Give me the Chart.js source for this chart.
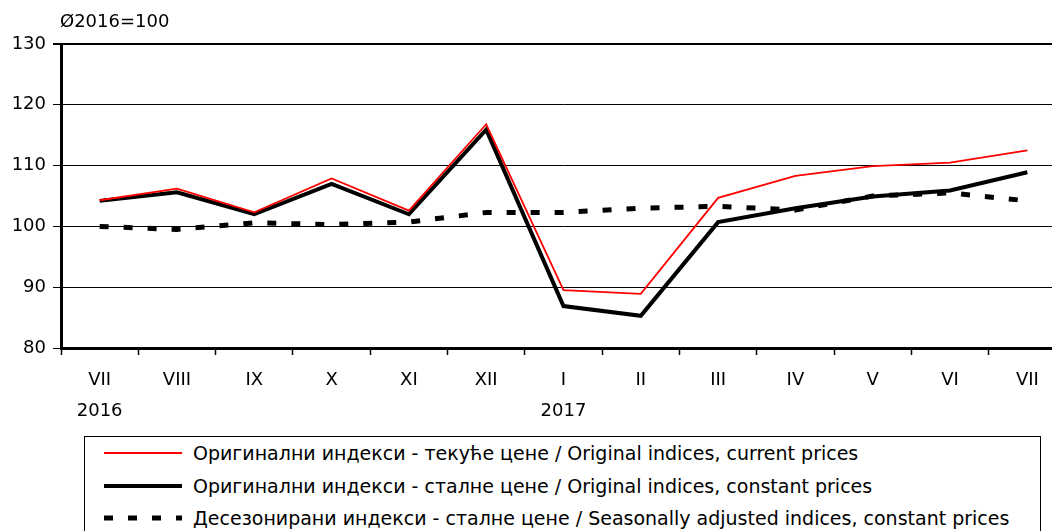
<!DOCTYPE html>
<html>
<head>
<meta charset="utf-8">
<script src="https://cdn.jsdelivr.net/npm/chart.js@4"></script>
<style>
    body { margin: 0; background: #fff; overflow: hidden; width: 1052px; height: 531px; position: relative; }
    #wrap { position: absolute; left: 0; top: 0; width: 1066px; height: 420px; }
    #legend {
        position: absolute; left: 84px; top: 436px; width: 957px; height: 120px;
        border: 1px solid #000; box-sizing: border-box;
        font-family: "DejaVu Sans", sans-serif; font-size: 19px; color: #000;
    }
    .row { position: absolute; left: 0; height: 32px; display: flex; align-items: center; white-space: nowrap; }
    .row svg { margin-left: 19px; margin-right: 11px; }
</style>
</head>
<body>
<div id="wrap"><canvas id="chart"></canvas></div>
<div id="legend"></div>
<script>
// Months, July 2016 - July 2017
const months = [['VII', '2016'], 'VIII', 'IX', 'X', 'XI', 'XII', ['I', '2017'], 'II', 'III', 'IV', 'V', 'VI', 'VII'];
const currentPrices = [104.3, 106.2, 102.3, 107.9, 102.6, 116.8, 89.5, 88.9, 104.7, 108.3, 109.9, 110.5, 112.5];
const constantPrices = [104.2, 105.6, 102.0, 107.0, 102.0, 115.9, 86.9, 85.3, 100.7, 103.0, 104.9, 105.9, 108.9];
const seasonallyAdjusted = [100.0, 99.5, 100.6, 100.3, 100.7, 102.3, 102.3, 103.0, 103.3, 102.7, 105.0, 105.5, 104.2];
const yTicks = [80, 90, 100, 110, 120, 130];

const labelCurrent = 'Оригинални индекси - текуће цене / Original indices, current prices';
const labelConstant = 'Оригинални индекси - сталне цене / Original indices, constant prices';
const labelAdjusted = 'Десезонирани индекси - сталне цене / Seasonally adjusted indices, constant prices';

const font = "'DejaVu Sans', sans-serif";

// Draws the base label above the y axis
const baseLabel = {
    id: 'baseLabel',
    afterDraw(chart) {
        const ctx = chart.ctx;
        ctx.save();
        ctx.font = '18px ' + font;
        ctx.fillStyle = '#000';
        ctx.textBaseline = 'middle';
        ctx.fillText('Ø2016=100', chart.chartArea.left - 1, 22);
        ctx.restore();
    }
};

const chart = new Chart(document.getElementById('chart'), {
    type: 'line',
    data: {
        labels: months,
        datasets: [
            {
                label: labelCurrent,
                data: currentPrices,
                borderColor: '#ff0000',
                borderWidth: 1.8,
                pointRadius: 0,
                tension: 0,
                order: 1
            },
            {
                label: labelConstant,
                data: constantPrices,
                borderColor: '#000',
                borderWidth: 4,
                pointRadius: 0,
                tension: 0,
                order: 2
            },
            {
                label: labelAdjusted,
                data: seasonallyAdjusted,
                borderColor: '#000',
                borderWidth: 5,
                borderDash: [9, 15],
                borderCapStyle: 'butt',
                pointRadius: 0,
                tension: 0,
                order: 3
            }
        ]
    },
    options: {
        responsive: true,
        maintainAspectRatio: false,
        animation: false,
        layout: { padding: { top: 44, left: 0, right: 0, bottom: 0 } },
        plugins: {
            legend: { display: false },
            tooltip: { enabled: false }
        },
        scales: {
            x: {
                offset: true,
                afterFit(scale) { scale.height = 72; },
                grid: {
                    offset: true,
                    drawOnChartArea: false,
                    drawTicks: true,
                    tickLength: 7,
                    tickWidth: 1.5,
                    tickColor: '#000'
                },
                border: { color: '#000', width: 3 },
                ticks: {
                    color: '#000',
                    font: { family: font, size: 18, lineHeight: 1.7 },
                    padding: 10,
                    maxRotation: 0,
                    autoSkip: false
                }
            },
            y: {
                min: 80,
                max: 130,
                afterFit(scale) { scale.width = 61; },
                afterBuildTicks(scale) { scale.ticks = yTicks.map(v => ({ value: v })); },
                grid: {
                    color: '#000',
                    lineWidth: c => (c.tick && c.tick.value === 130 ? 2 : 1),
                    tickLength: 8,
                    tickColor: '#000'
                },
                border: { color: '#000', width: 3 },
                ticks: {
                    color: '#000',
                    font: { family: font, size: 18 },
                    padding: 7
                }
            }
        }
    },
    plugins: [baseLabel]
});

// HTML legend built from the datasets
const legend = document.getElementById('legend');
chart.data.datasets.forEach((ds, i) => {
    const row = document.createElement('div');
    row.className = 'row';
    row.style.top = (i * 32.5) + 'px';
    const dash = ds.borderDash ? ds.borderDash.join(' ') : '';
    row.innerHTML =
        '<svg width="78" height="10"><line x1="0" y1="5" x2="78" y2="5" stroke="' + ds.borderColor +
        '" stroke-width="' + ds.borderWidth + '"' + (dash ? ' stroke-dasharray="' + dash + '"' : '') +
        '/></svg><span>' + ds.label + '</span>';
    legend.appendChild(row);
});
</script>
</body>
</html>
